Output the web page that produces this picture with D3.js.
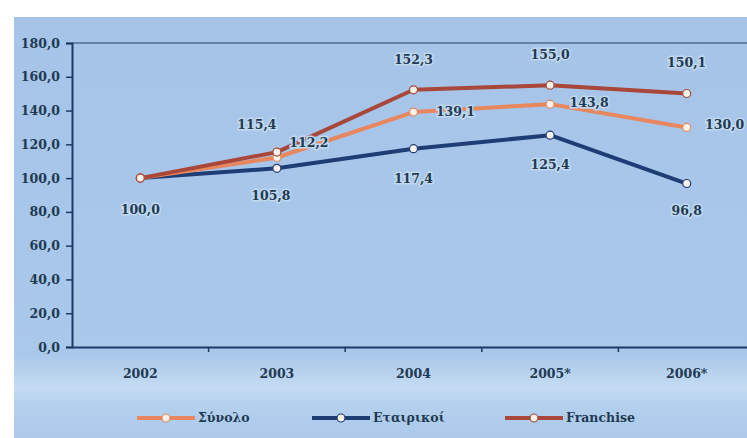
<!DOCTYPE html>
<html>
<head>
<meta charset="utf-8">
<script src="https://cdn.jsdelivr.net/npm/d3@7"></script>
<style>
  html, body { margin: 0; padding: 0; background: #ffffff; }
  svg { display: block; }
  svg text { font-family: "DejaVu Serif", "Liberation Serif", serif; font-size: 12.5px; font-weight: bold; fill: #1f3a52; }
</style>
</head>
<body>
<svg id="chart" width="747" height="438"></svg>
<script>
// Index values (2002 = 100)
const years = ["2002", "2003", "2004", "2005*", "2006*"];
const synolo = [100.0, 112.2, 139.1, 143.8, 130.0];
const etairikoi = [100.0, 105.8, 117.4, 125.4, 96.8];
const franchise = [100.0, 115.4, 152.3, 155.0, 150.1];
const seriesNames = ["Σύνολο", "Εταιρικοί", "Franchise"];
const yTicks = [0, 20, 40, 60, 80, 100, 120, 140, 160, 180];

(function () {
  const svg = d3.select("#chart");
  const W = 747, H = 438;
  const plotLeft = 72, plotTop = 43, plotBottom = 347, plotRight = 755;

  const fmt = v => d3.format(".1f")(v).replace(".", ",");

  // Panel background
  const defs = svg.append("defs");
  const grad = defs.append("linearGradient").attr("id", "bg").attr("x1", 0).attr("y1", 0).attr("x2", 0).attr("y2", 1);
  grad.append("stop").attr("offset", "0%").attr("stop-color", "#a5c4e8");
  grad.append("stop").attr("offset", "80%").attr("stop-color", "#a9c8ea");
  grad.append("stop").attr("offset", "88%").attr("stop-color", "#c4dbf2");
  grad.append("stop").attr("offset", "92%").attr("stop-color", "#b3d0ee");
  grad.append("stop").attr("offset", "100%").attr("stop-color", "#acc9ea");
  svg.append("rect").attr("x", 14).attr("y", 17).attr("width", W - 14).attr("height", H - 17).attr("fill", "url(#bg)");

  const x = d3.scaleBand().domain(years).range([plotLeft, plotRight]).padding(0);
  const y = d3.scaleLinear().domain([0, 180]).range([plotBottom, plotTop]);
  const cx = d => x(d) + x.bandwidth() / 2;

  // Top frame line
  svg.append("line").attr("x1", plotLeft).attr("x2", W).attr("y1", y(180)).attr("y2", y(180))
    .attr("stroke", "#4d6c8c").attr("stroke-width", 1.5);

  // Y axis
  const yAxis = svg.append("g").attr("transform", `translate(${plotLeft},0)`)
    .call(d3.axisLeft(y).tickValues(yTicks).tickFormat(fmt).tickSize(6).tickPadding(6));
  yAxis.attr("font-family", null).attr("font-size", null);
  yAxis.select(".domain").attr("stroke", "#1d3a66").attr("stroke-width", 2);
  yAxis.selectAll(".tick line").attr("stroke", "#1d3a66").attr("stroke-width", 1.5);
  yAxis.selectAll("text").attr("fill", null);

  // X axis
  const xAxis = svg.append("g").attr("transform", `translate(0,${plotBottom})`)
    .call(d3.axisBottom(x).tickSize(0).tickPadding(22));
  xAxis.attr("font-family", null).attr("font-size", null);
  xAxis.select(".domain").attr("stroke", "#1d3a66").attr("stroke-width", 2);
  xAxis.selectAll("text").attr("fill", null);
  // Category separators
  svg.append("g").selectAll("line").data(years.slice(1)).join("line")
    .attr("x1", d => x(d)).attr("x2", d => x(d)).attr("y1", plotBottom).attr("y2", plotBottom + 5)
    .attr("stroke", "#1d3a66").attr("stroke-width", 1.5);

  const colors = ["#e8865e", "#1f3d75", "#a8473a"];
  const data = [synolo, etairikoi, franchise];

  const line = d3.line().x((d, i) => cx(years[i])).y(d => y(d));

  // Navy first, then total, then franchise on top
  [1, 0, 2].forEach(s => {
    svg.append("path").datum(data[s]).attr("d", line).attr("fill", "none")
      .attr("stroke", colors[s]).attr("stroke-width", 4).attr("stroke-linejoin", "round");
  });
  [1, 0, 2].forEach(s => {
    svg.append("g").selectAll("circle").data(data[s]).join("circle")
      .attr("cx", (d, i) => cx(years[i])).attr("cy", d => y(d)).attr("r", 4)
      .attr("fill", "#fbf3ea").attr("stroke", colors[s]).attr("stroke-width", 1.2);
  });

  // Value labels: offsets per series and year
  const offsets = [
    [null, [32, -14], [42, 0], [39, -1], [38, -2]],
    [[0, 32], [-6, 28], [0, 31], [0, 30], [0, 28]],
    [null, [-20, -27], [0, -29], [0, -30], [0, -30]]
  ];
  const labelG = svg.append("g");
  data.forEach((vals, s) => {
    vals.forEach((v, i) => {
      const o = offsets[s][i];
      if (!o) return;
      labelG.append("text")
        .attr("x", cx(years[i]) + o[0]).attr("y", y(v) + o[1])
        .attr("text-anchor", "middle").attr("dominant-baseline", "middle")
        .attr("stroke", "#c2d9f0").attr("stroke-width", 3).attr("paint-order", "stroke")
        .text(fmt(v));
    });
  });

  // Legend
  const legendX = [137, 312, 505];
  const legend = svg.append("g");
  seriesNames.forEach((name, s) => {
    const lx = legendX[s], ly = 418;
    legend.append("line").attr("x1", lx).attr("x2", lx + 58).attr("y1", ly).attr("y2", ly)
      .attr("stroke", colors[s]).attr("stroke-width", 4);
    legend.append("circle").attr("cx", lx + 29).attr("cy", ly).attr("r", 4)
      .attr("fill", "#fbf3ea").attr("stroke", colors[s]).attr("stroke-width", 1.2);
    legend.append("text").attr("x", lx + 61).attr("y", ly).attr("dominant-baseline", "middle")
      .text(name);
  });
})();
</script>
</body>
</html>
